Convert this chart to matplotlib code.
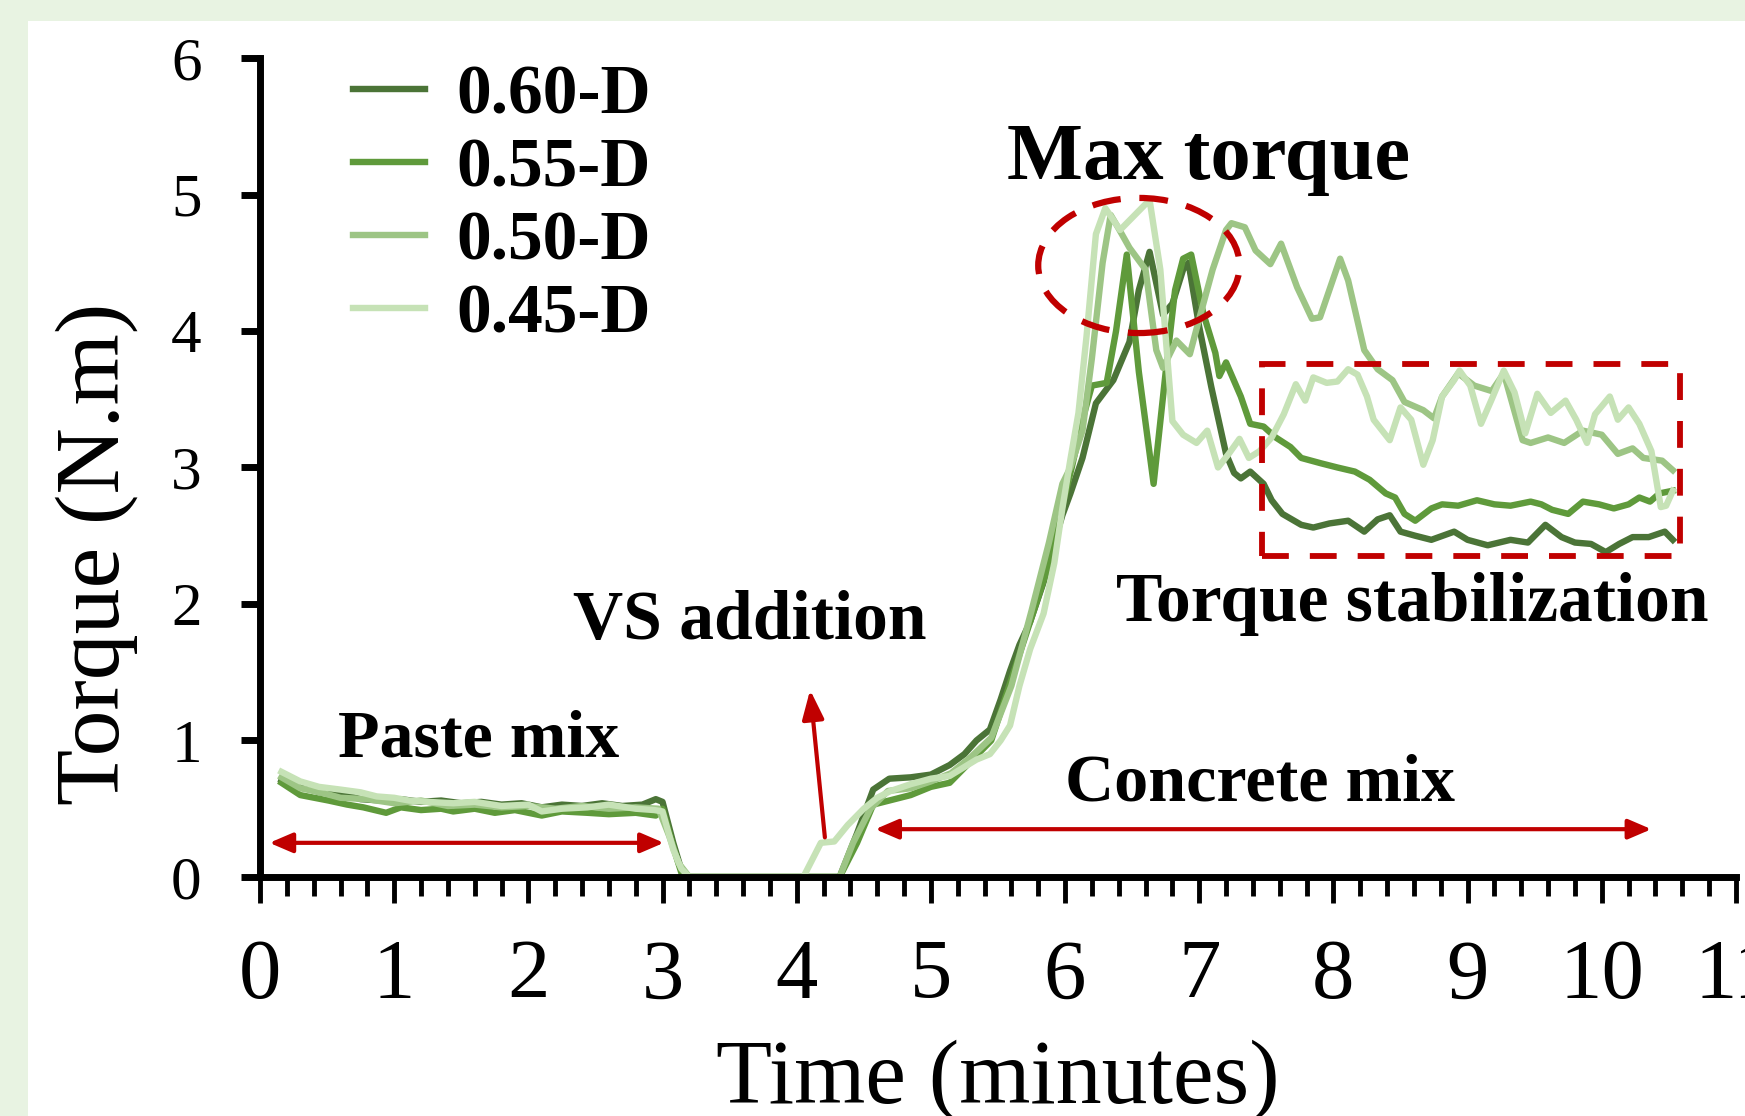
import matplotlib
matplotlib.use("Agg")
import matplotlib.pyplot as plt
from matplotlib.patches import Ellipse, Rectangle

plt.rcParams["font.family"] = ["Liberation Serif", "DejaVu Serif"]

# ---- data (time in minutes, torque in N.m) ----
t_060 = [0.16, 0.3, 0.45, 0.61, 0.75, 0.9, 1.05, 1.2, 1.35, 1.5, 1.65, 1.8, 1.95, 2.1,
         2.25, 2.4, 2.55, 2.7, 2.85, 2.95, 3.0, 3.08, 3.15, 3.2, 4.32, 4.45, 4.57, 4.69,
         4.85, 5.0, 5.14, 5.25, 5.34, 5.44, 5.52, 5.59, 5.66, 5.74, 5.84, 5.92, 5.98,
         6.04, 6.13, 6.23, 6.36, 6.48, 6.55, 6.63, 6.73, 6.8, 6.88, 6.92, 7.0, 7.09,
         7.2, 7.26, 7.31, 7.38, 7.48, 7.54, 7.62, 7.76, 7.85, 7.97, 8.11, 8.23, 8.33,
         8.42, 8.5, 8.61, 8.73, 8.9, 9.0, 9.15, 9.32, 9.45, 9.58, 9.7, 9.8, 9.92,
         10.03, 10.13, 10.23, 10.35, 10.47, 10.53]
q_060 = [0.71, 0.66, 0.62, 0.61, 0.57, 0.56, 0.57, 0.55, 0.56, 0.54, 0.55, 0.53, 0.54, 0.51,
         0.53, 0.52, 0.54, 0.52, 0.53, 0.57, 0.55, 0.25, 0.02, 0.0, 0.0, 0.32, 0.64, 0.72,
         0.73, 0.75, 0.82, 0.9, 1.0, 1.08, 1.3, 1.51, 1.7, 1.87, 2.16, 2.45, 2.65,
         2.81, 3.07, 3.47, 3.64, 3.92, 4.3, 4.58, 4.12, 4.2, 4.45, 4.5, 4.03, 3.59,
         3.1, 2.96, 2.92, 2.97, 2.88, 2.76, 2.66, 2.58, 2.56, 2.59, 2.61, 2.53, 2.62,
         2.65, 2.53, 2.5, 2.47, 2.53, 2.47, 2.43, 2.47, 2.45, 2.58, 2.49, 2.45, 2.44,
         2.38, 2.44, 2.49, 2.49, 2.53, 2.47]

t_055 = [0.16, 0.3, 0.51, 0.65, 0.77, 0.94, 1.05, 1.2, 1.35, 1.44, 1.6, 1.75, 1.9, 2.1,
         2.25, 2.44, 2.6, 2.8, 2.95, 3.0, 3.08, 3.15, 4.32, 4.45, 4.57, 4.69, 4.85, 5.0,
         5.14, 5.3, 5.45, 5.6, 5.75, 5.85, 5.95, 6.05, 6.13, 6.2, 6.31, 6.38, 6.46,
         6.55, 6.66, 6.75, 6.82, 6.88, 6.94, 7.03, 7.12, 7.15, 7.2, 7.31, 7.38, 7.48,
         7.57, 7.68, 7.76, 7.91, 8.03, 8.16, 8.27, 8.39, 8.46, 8.53, 8.61, 8.73, 8.81,
         8.93, 9.07, 9.2, 9.32, 9.47, 9.55, 9.63, 9.75, 9.86, 9.98, 10.09, 10.2, 10.28,
         10.36, 10.43, 10.53]
q_055 = [0.69, 0.6, 0.56, 0.53, 0.51, 0.47, 0.51, 0.49, 0.5, 0.48, 0.5, 0.47, 0.49, 0.45,
         0.48, 0.47, 0.46, 0.47, 0.45, 0.5, 0.22, 0.0, 0.0, 0.25, 0.53, 0.56, 0.6, 0.66,
         0.69, 0.85, 1.0, 1.45, 1.9, 2.2, 2.6, 3.0, 3.35, 3.6, 3.62, 4.0, 4.56,
         3.7, 2.88, 3.7, 4.3, 4.53, 4.56, 4.13, 3.84, 3.67, 3.77, 3.52, 3.32, 3.3,
         3.22, 3.15, 3.07, 3.03, 3.0, 2.97, 2.91, 2.81, 2.78, 2.66, 2.61, 2.7, 2.73,
         2.72, 2.76, 2.73, 2.72, 2.75, 2.73, 2.69, 2.66, 2.75, 2.73, 2.7, 2.73, 2.78,
         2.75, 2.81, 2.83]

t_050 = [0.16, 0.3, 0.45, 0.6, 0.8, 1.0, 1.2, 1.4, 1.6, 1.8, 2.0, 2.2, 2.4, 2.6, 2.8,
         2.97, 3.05, 3.12, 3.2, 4.32, 4.42, 4.55, 4.68, 4.85, 5.0, 5.15, 5.3, 5.45, 5.6,
         5.75, 5.88, 5.98, 6.04, 6.13, 6.2, 6.28, 6.34, 6.4, 6.48, 6.6, 6.68, 6.73,
         6.83, 6.93, 7.0, 7.1, 7.2, 7.24, 7.34, 7.42, 7.53, 7.61, 7.73, 7.84, 7.9,
         8.05, 8.11, 8.23, 8.33, 8.44, 8.53, 8.67, 8.75, 8.81, 8.93, 9.05, 9.18, 9.27,
         9.41, 9.47, 9.6, 9.72, 9.86, 10.0, 10.12, 10.23, 10.31, 10.45, 10.53]
q_050 = [0.73, 0.65, 0.62, 0.58, 0.57, 0.54, 0.56, 0.52, 0.53, 0.51, 0.52, 0.5, 0.52, 0.5, 0.51,
         0.5, 0.3, 0.1, 0.0, 0.0, 0.25, 0.5, 0.63, 0.65, 0.7, 0.76, 0.88, 1.02, 1.4,
         1.95, 2.45, 2.88, 3.0, 3.27, 3.8, 4.5, 4.85, 4.75, 4.61, 4.45, 3.86, 3.73,
         3.93, 3.83, 4.09, 4.45, 4.74, 4.79, 4.76, 4.59, 4.49, 4.64, 4.32, 4.09, 4.1,
         4.53, 4.37, 3.86, 3.72, 3.64, 3.48, 3.42, 3.36, 3.52, 3.69, 3.6, 3.56, 3.69,
         3.2, 3.18, 3.22, 3.18, 3.27, 3.24, 3.1, 3.14, 3.07, 3.05, 2.98]

t_045 = [0.16, 0.3, 0.44, 0.6, 0.75, 0.87, 1.0, 1.11, 1.25, 1.44, 1.6, 1.8, 2.0, 2.1,
         2.25, 2.44, 2.6, 2.8, 2.94, 3.0, 3.08, 3.14, 3.2, 4.05, 4.18, 4.28, 4.38, 4.5,
         4.6, 4.7, 4.85, 5.0, 5.14, 5.34, 5.44, 5.52, 5.59, 5.66, 5.74, 5.84, 5.92,
         5.98, 6.04, 6.1, 6.16, 6.23, 6.3, 6.41, 6.52, 6.63, 6.71, 6.8, 6.88, 6.98,
         7.06, 7.14, 7.22, 7.3, 7.37, 7.45, 7.54, 7.63, 7.72, 7.79, 7.85, 7.95, 8.03,
         8.11, 8.18, 8.25, 8.3, 8.42, 8.5, 8.58, 8.67, 8.74, 8.81, 8.9, 8.94, 9.02,
         9.1, 9.18, 9.27, 9.35, 9.43, 9.52, 9.62, 9.73, 9.81, 9.89, 9.95, 10.06, 10.12,
         10.2, 10.28, 10.37, 10.44, 10.48, 10.53]
q_045 = [0.77, 0.7, 0.66, 0.64, 0.62, 0.59, 0.58, 0.56, 0.55, 0.54, 0.55, 0.52, 0.53, 0.48,
         0.5, 0.51, 0.53, 0.5, 0.49, 0.48, 0.2, 0.06, 0.0, 0.0, 0.25, 0.26, 0.38, 0.5,
         0.58, 0.63, 0.68, 0.72, 0.74, 0.86, 0.9, 1.0, 1.11, 1.4, 1.67, 1.93, 2.3,
         2.7, 3.06, 3.4, 3.96, 4.71, 4.9, 4.74, 4.85, 4.96, 4.45, 3.34, 3.24, 3.18,
         3.27, 3.0, 3.1, 3.21, 3.07, 3.12, 3.22, 3.39, 3.61, 3.49, 3.66, 3.62, 3.63,
         3.72, 3.68, 3.52, 3.35, 3.2, 3.44, 3.35, 3.02, 3.2, 3.52, 3.64, 3.71, 3.6,
         3.32, 3.5, 3.71, 3.55, 3.25, 3.54, 3.4, 3.49, 3.35, 3.18, 3.39, 3.52, 3.35,
         3.44, 3.32, 3.12, 2.71, 2.72, 2.83]

series_labels = ["0.60-D", "0.55-D", "0.50-D", "0.45-D"]
series_colors = ["#4b7437", "#5f9a3b", "#9dc585", "#c6e2b6"]
red = "#c00000"

fig = plt.figure(figsize=(17.45, 11.16), dpi=100)
fig.patch.set_facecolor("#e8f3e2")
fig.add_artist(Rectangle((28 / 1745, 0), 1, 1 - 21 / 1116, transform=fig.transFigure,
                         facecolor="white", edgecolor="none", zorder=-1))
ax = fig.add_axes([0.149, 0.2142, 0.8458, 0.7338])

for t, q, lab, col in zip([t_060, t_055, t_050, t_045], [q_060, q_055, q_050, q_045],
                          series_labels, series_colors):
    ax.plot(t, q, color=col, lw=4.6, label=lab, solid_joinstyle="round")

ax.set_xlim(0, 11)
ax.set_ylim(0, 6)
ax.set_xticks(range(0, 12))
ax.set_xticks([i * 0.2 for i in range(0, 56)], minor=True)
ax.set_yticks(range(0, 7))
for s in ["top", "right"]:
    ax.spines[s].set_visible(False)
for s in ["left", "bottom"]:
    ax.spines[s].set_linewidth(5)
ax.tick_params(axis="x", which="major", direction="out", length=19, width=3.5,
               labelsize=61, pad=26)
ax.tick_params(axis="x", which="minor", direction="out", length=14, width=3.5)
ax.tick_params(axis="y", which="major", direction="out", length=14, width=5,
               labelsize=44, pad=28)
ax.set_xlabel("Time (minutes)", fontsize=66)
ax.xaxis.set_label_coords(0.5, -0.198)
ax.set_ylabel("Torque (N.m)", fontsize=66)
ax.yaxis.set_label_coords(-0.083, 0.395)

leg = ax.legend(loc="upper left", bbox_to_anchor=(0.063, 0.992), frameon=False,
                prop={"size": 50, "weight": "bold"}, handlelength=1.04,
                handletextpad=0.45, labelspacing=0.13, borderpad=0, borderaxespad=0)

# annotations
txt = dict(fontweight="bold", color="black", ha="center", va="center")
ax.text(7.07, 5.26, "Max torque", fontsize=58, **txt)
ax.text(3.65, 1.87, "VS addition", fontsize=50, **txt)
ax.text(1.63, 1.0, "Paste mix", fontsize=49, **txt)
ax.text(7.45, 0.68, "Concrete mix", fontsize=49, **txt)
ax.text(8.59, 2.0, "Torque stabilization", fontsize=50, **txt)

dbl = dict(arrowstyle="<|-|>,head_length=0.7,head_width=0.3", color=red, lw=3,
           mutation_scale=20, shrinkA=0, shrinkB=0)
ax.annotate("", xy=(3.01, 0.25), xytext=(0.07, 0.25), arrowprops=dbl)
ax.annotate("", xy=(10.37, 0.35), xytext=(4.585, 0.35), arrowprops=dbl)
ax.annotate("", xy=(4.10, 1.37), xytext=(4.21, 0.29),
            arrowprops=dict(arrowstyle="-|>,head_length=0.8,head_width=0.3", color=red,
                            lw=3, mutation_scale=22, shrinkA=0, shrinkB=0))

ax.add_patch(Ellipse((6.55, 4.48), 1.5, 0.99, fill=False, edgecolor=red, lw=4.5,
                     linestyle=(0, (4.6, 3.0)), zorder=5))
ax.add_patch(Rectangle((7.47, 2.35), 3.11, 1.41, fill=False, edgecolor=red, lw=4.2,
                       linestyle=(0, (4.6, 3.6)), zorder=5))

fig.savefig("out.png", dpi=100, facecolor=fig.get_facecolor())
